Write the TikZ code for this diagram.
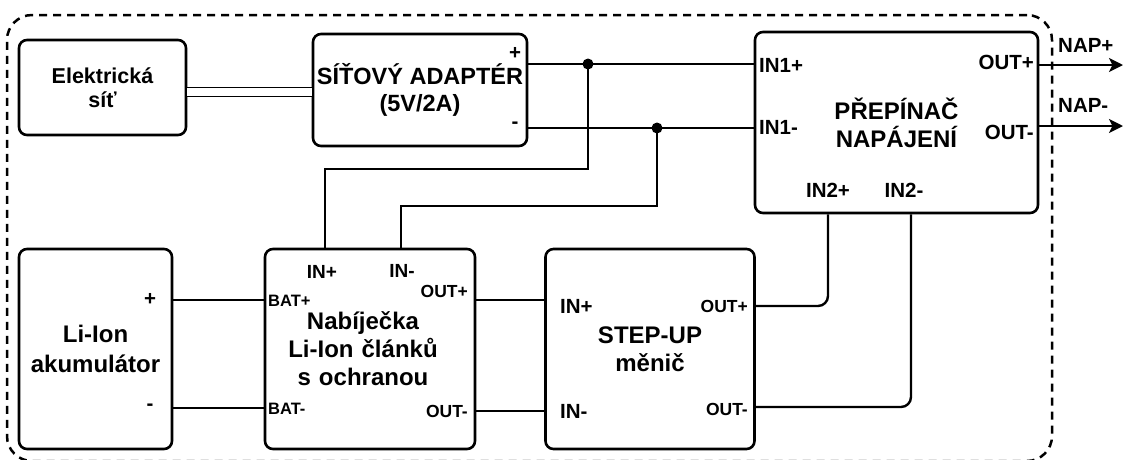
\documentclass[tikz,border=0pt]{standalone}
\usepackage{fontspec}
\setmainfont{Liberation Sans}
\usetikzlibrary{arrows.meta,calc}
\begin{document}
\begin{tikzpicture}[x=1pt,y=-1pt,
  box/.style={draw, line width=2.6pt, rounded corners=8pt, inner sep=0pt, align=center,
    font=\fontsize{24}{28}\selectfont\bfseries},
  wire/.style={line width=2.4pt},
  port/.style={inner sep=0pt, font=\fontsize{20.5}{22}\selectfont\bfseries},
  mport/.style={inner sep=0pt, font=\fontsize{19}{20}\selectfont\bfseries},
  sport/.style={inner sep=0pt, font=\fontsize{17.5}{18}\selectfont\bfseries},
  bport/.style={inner sep=0pt, font=\fontsize{16.5}{17}\selectfont\bfseries},
  frame/.style={draw, line width=2.5pt, dash pattern=on 8pt off 6pt, rounded corners=25pt},
  outarrow/.style={wire, -{Stealth[length=14pt, width=14pt, inset=3.5pt]}},
  junction/.style={circle, fill, inner sep=0pt, minimum size=11pt}
]
\useasboundingbox (0,0) rectangle (1125,459);

% outer dashed frame
\node[frame, minimum width=1045pt, minimum height=446pt] (frame) at (529.5,238) {};

% blocks
\node[box, minimum width=167pt, minimum height=95pt, font=\fontsize{21.5}{24}\selectfont\bfseries] (grid) at (102.5,87.5) {Elektrická\\síť};
\node[box, minimum width=214pt, minimum height=112pt, font=\fontsize{23.5}{27}\selectfont\bfseries] (adapter) at (420,90) {SÍŤOVÝ ADAPTÉR\\(5V/2A)};
\node[box, minimum width=283pt, minimum height=181pt] (prep) at (896.5,122.5) {PŘEPÍNAČ\\NAPÁJENÍ};
\node[box, minimum width=153pt, minimum height=200pt, font=\fontsize{24}{30}\selectfont\bfseries] (batt) at (95.5,349) {Li-Ion\\akumulátor};
\node[box, minimum width=210pt, minimum height=200pt, text width=200pt] (charger) at (370,349) {\hspace*{-14pt}Nabíječka\\\hspace*{-14pt}Li-Ion článků\\\hspace*{-14pt}s ochranou};
\node[box, minimum width=209pt, minimum height=200pt] (stepup) at (650,349) {STEP-UP\\měnič};

% port labels
\node[port] (adp) at (515,53) {+};
\node[port] (adm) at (515,125) {-};
\node[port, anchor=west] (in1p) at (759,65) {IN1+};
\node[port, anchor=west] (in1m) at (759,127) {IN1-};
\node[port, anchor=east] (outp) at (1034,62) {OUT+};
\node[port, anchor=east] (outm) at (1034,132) {OUT-};
\node[port] (in2p) at (828,190) {IN2+};
\node[port] (in2m) at (904,190) {IN2-};
\node[port, anchor=west] (napp) at (1058,45) {NAP+};
\node[port, anchor=west] (napm) at (1058,105) {NAP-};
\node[port] (bp) at (150,299) {+};
\node[port] (bm) at (150,407) {-};
\node[mport] (cinp) at (322,272) {IN+};
\node[mport] (cinm) at (402,271) {IN-};
\node[bport, anchor=west] (batp) at (268,301) {BAT+};
\node[bport, anchor=west] (batm) at (268,409) {BAT-};
\node[sport, anchor=east] (coutp) at (468,291) {OUT+};
\node[sport, anchor=east] (coutm) at (468,411) {OUT-};
\node[port, anchor=west] (sinp) at (560,306) {IN+};
\node[port, anchor=west] (sinm) at (560,411) {IN-};
\node[sport, anchor=east] (soutp) at (748,306) {OUT+};
\node[sport, anchor=east] (soutm) at (748,409) {OUT-};

% helper coordinates
\coordinate (ymain) at (0,92);
\coordinate (j1) at (588,64);
\coordinate (j2) at (657,128);
\coordinate (c1) at (325,169);
\coordinate (c2) at (401,206);
\coordinate (yb1) at (0,300);
\coordinate (yb2) at (0,408);
\coordinate (ys1) at (0,300);
\coordinate (ys2) at (0,411);
\coordinate (k1) at (828,306);
\coordinate (k2) at (911,407);
\coordinate (o1) at (1123,65);
\coordinate (o2) at (1123,126);

% mains link (double line)
\draw[line width=1.4pt, double distance=7.5pt] (grid.east |- ymain) -- (adapter.west |- ymain);

% adapter to switch
\draw[wire] (adapter.east |- j1) -- (prep.west |- j1);
\draw[wire] (adapter.east |- j2) -- (prep.west |- j2);
\node[junction] (dot1) at (j1) {};
\node[junction] (dot2) at (j2) {};
\draw[wire] (dot1.center) |- (c1) -- (c1 |- charger.north);
\draw[wire] (dot2.center) |- (c2) -- (c2 |- charger.north);

% battery to charger
\draw[wire] (batt.east |- yb1) -- (charger.west |- yb1);
\draw[wire] (batt.east |- yb2) -- (charger.west |- yb2);

% charger to step-up
\draw[wire] (charger.east |- ys1) -- (stepup.west |- ys1);
\draw[wire] (charger.east |- ys2) -- (stepup.west |- ys2);

% step-up to switch
\draw[wire, rounded corners=10pt] (stepup.east |- k1) -| (k1 |- prep.south);
\draw[wire, rounded corners=10pt] (stepup.east |- k2) -| (k2 |- prep.south);

% outputs
\draw[outarrow] (prep.east |- o1) -- (o1);
\draw[outarrow] (prep.east |- o2) -- (o2);
\end{tikzpicture}
\end{document}
